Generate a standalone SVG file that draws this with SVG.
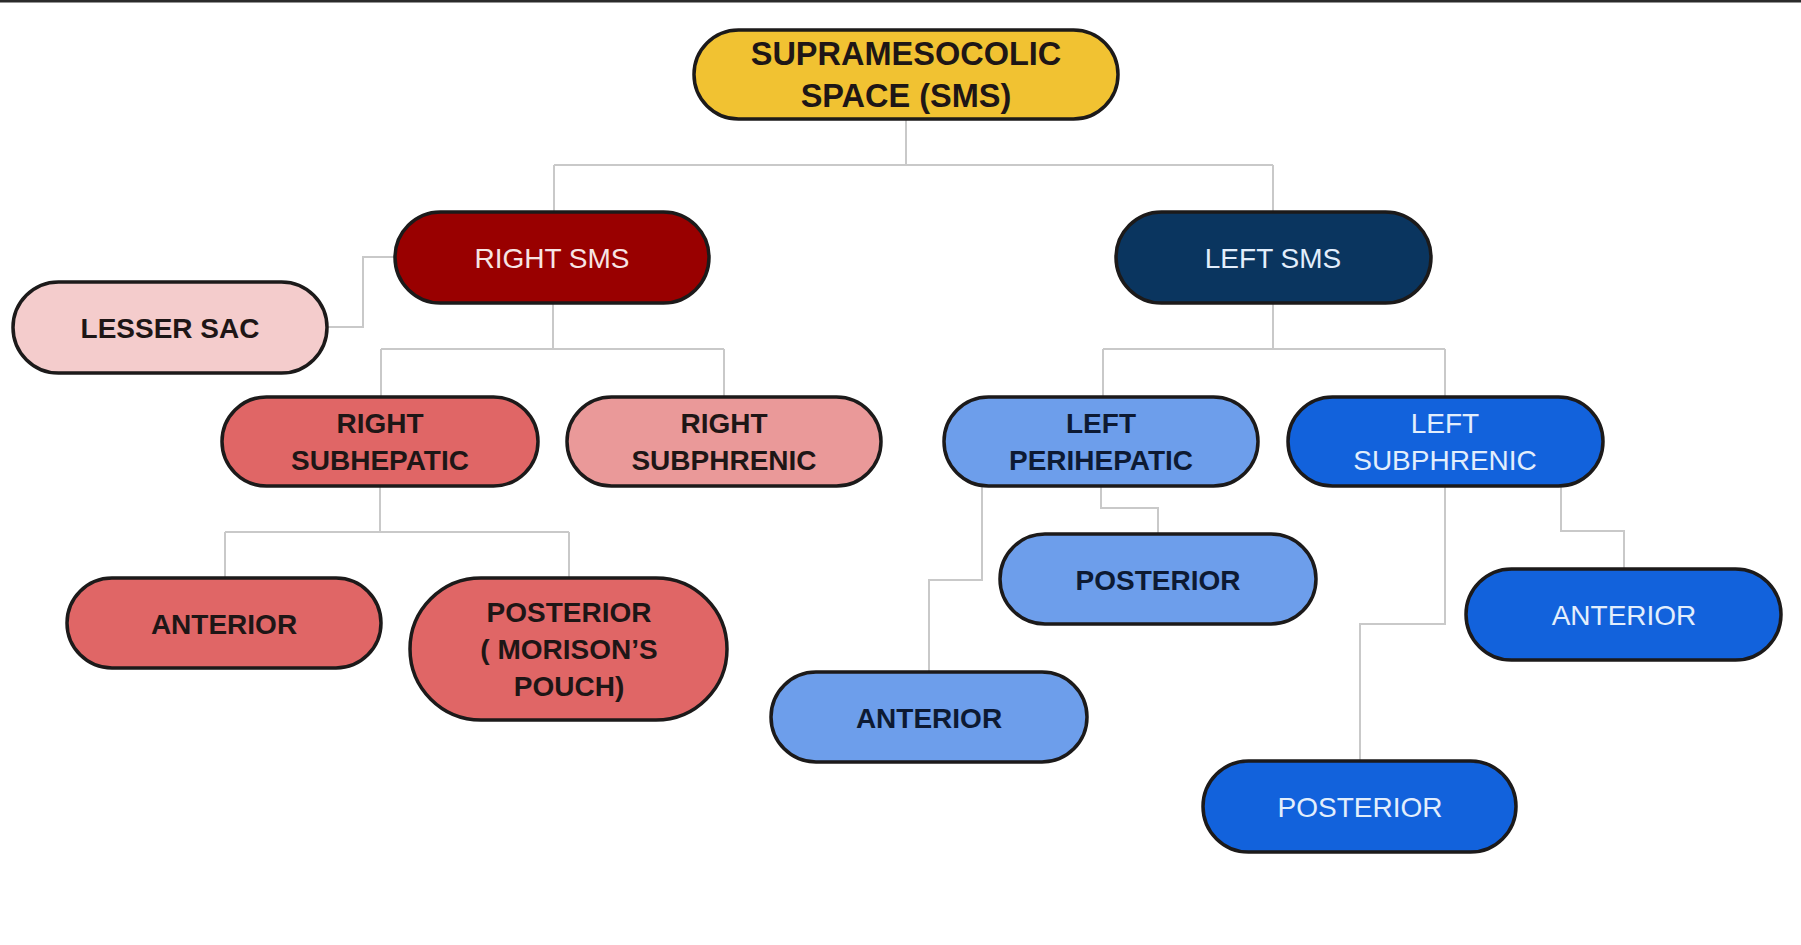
<svg xmlns="http://www.w3.org/2000/svg" width="1801" height="945" viewBox="0 0 1801 945">
<style>
.n{stroke:#1c1a1a;stroke-width:3.5}
.t{font-family:"Liberation Sans",Arial,sans-serif;font-size:28px;text-anchor:middle}
.b{font-weight:bold;fill:#1e1616}
.bb{font-weight:bold;fill:#0d1a33}
.w{fill:#f7e4e4}
.wb{fill:#e2eefc}
.c{fill:none;stroke:#c9c9c9;stroke-width:2}
</style>
<rect width="1801" height="945" fill="#ffffff"/>
<rect x="0" y="0" width="1801" height="2.5" fill="#2b2b2b"/>
<g id="connectors">
<path class="c" d="M906 119V165M554 165H1273M554 165V211M1273 165V211"/>
<path class="c" d="M395 257H363V327H327"/>
<path class="c" d="M553 303V349M381 349H724M381 349V396M724 349V396"/>
<path class="c" d="M1273 303V349M1103 349H1445M1103 349V396M1445 349V396"/>
<path class="c" d="M380 486V532M225 532H569M225 532V578M569 532V578"/>
<path class="c" d="M1101 486V508H1158V534"/>
<path class="c" d="M982 486V580H929V672"/>
<path class="c" d="M1445 486V624H1360V760"/>
<path class="c" d="M1561 486V531H1624V569"/>
</g>
<g id="sms">
<rect class="n" x="694" y="30" width="424" height="89" rx="44.5" fill="#f1c232"/>
<text class="t b" x="906" y="65" style="font-size:32.5px">SUPRAMESOCOLIC</text>
<text class="t b" x="906" y="107" style="font-size:32.5px">SPACE (SMS)</text>
</g>
<g id="right-sms">
<rect class="n" x="395" y="212" width="314" height="91" rx="45.5" fill="#990000"/>
<text class="t w" x="552" y="268">RIGHT SMS</text>
</g>
<g id="left-sms">
<rect class="n" x="1116" y="212" width="315" height="91" rx="45.5" fill="#0a355f"/>
<text class="t wb" x="1273" y="268">LEFT SMS</text>
</g>
<g id="lesser-sac">
<rect class="n" x="13" y="282" width="314" height="91" rx="45.5" fill="#f4cccc"/>
<text class="t b" x="170" y="338">LESSER SAC</text>
</g>
<g id="right-subhepatic">
<rect class="n" x="222" y="397" width="316" height="89" rx="44.5" fill="#e06666"/>
<text class="t b" x="380" y="433">RIGHT</text>
<text class="t b" x="380" y="470">SUBHEPATIC</text>
</g>
<g id="right-subphrenic">
<rect class="n" x="567" y="397" width="314" height="89" rx="44.5" fill="#ea9999"/>
<text class="t b" x="724" y="433">RIGHT</text>
<text class="t b" x="724" y="470">SUBPHRENIC</text>
</g>
<g id="left-perihepatic">
<rect class="n" x="944" y="397" width="314" height="89" rx="44.5" fill="#6d9eeb"/>
<text class="t bb" x="1101" y="433">LEFT</text>
<text class="t bb" x="1101" y="470">PERIHEPATIC</text>
</g>
<g id="left-subphrenic">
<rect class="n" x="1288" y="397" width="315" height="89" rx="44.5" fill="#1262dc"/>
<text class="t wb" x="1445" y="433">LEFT</text>
<text class="t wb" x="1445" y="470">SUBPHRENIC</text>
</g>
<g id="right-anterior">
<rect class="n" x="67" y="578" width="314" height="90" rx="45" fill="#e06666"/>
<text class="t b" x="224" y="634">ANTERIOR</text>
</g>
<g id="morison">
<rect class="n" x="410" y="578" width="317" height="142" rx="71" fill="#e06666"/>
<text class="t b" x="569" y="622">POSTERIOR</text>
<text class="t b" x="569" y="659">( MORISON’S</text>
<text class="t b" x="569" y="696">POUCH)</text>
</g>
<g id="left-peri-posterior">
<rect class="n" x="1000" y="534" width="316" height="90" rx="45" fill="#6d9eeb"/>
<text class="t bb" x="1158" y="590">POSTERIOR</text>
</g>
<g id="left-peri-anterior">
<rect class="n" x="771" y="672" width="316" height="90" rx="45" fill="#6d9eeb"/>
<text class="t bb" x="929" y="728">ANTERIOR</text>
</g>
<g id="left-subphrenic-anterior">
<rect class="n" x="1466" y="569" width="315" height="91" rx="45.5" fill="#1262dc"/>
<text class="t wb" x="1624" y="625">ANTERIOR</text>
</g>
<g id="left-subphrenic-posterior">
<rect class="n" x="1203" y="761" width="313" height="91" rx="45.5" fill="#1262dc"/>
<text class="t wb" x="1360" y="817">POSTERIOR</text>
</g>
</svg>
